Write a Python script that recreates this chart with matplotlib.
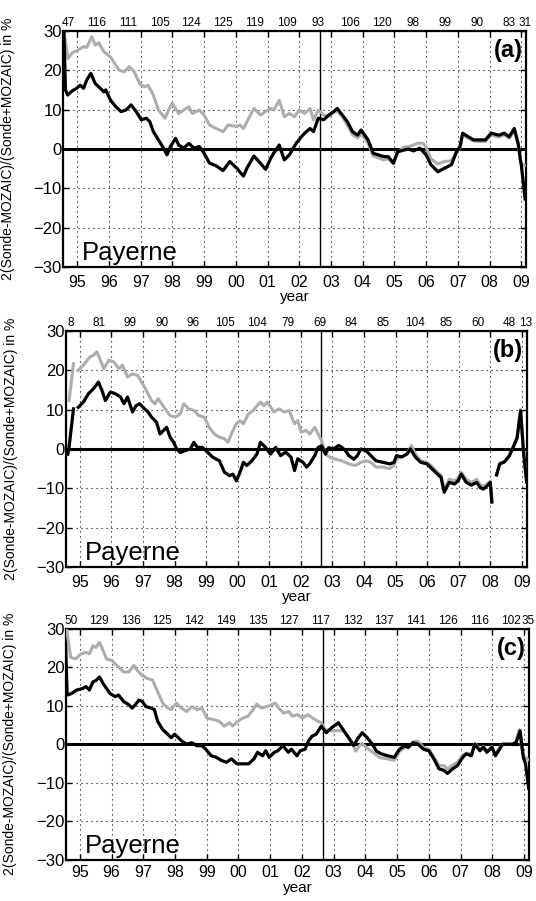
import numpy as np
import matplotlib
matplotlib.use('Agg')
import matplotlib.pyplot as plt

plt.rcParams['font.family'] = ['Liberation Sans', 'DejaVu Sans']

# ---- panel (a) ----
a_gray_t = [1994.58, 1994.71, 1994.85, 1995.0, 1995.1, 1995.2, 1995.3, 1995.46, 1995.57, 1995.68,
            1995.84, 1996.05, 1996.15, 1996.32, 1996.48, 1996.64, 1996.8, 1996.97, 1997.13, 1997.23,
            1997.4, 1997.56, 1997.77, 1997.88, 1997.99, 1998.2, 1998.36, 1998.52, 1998.63, 1998.85,
            1999.0, 1999.17, 1999.38, 1999.6, 1999.76, 2000.03, 2000.13, 2000.24, 2000.46, 2000.57,
            2000.78, 2000.94, 2001.1, 2001.2, 2001.37, 2001.53, 2001.69, 2001.85, 2002.0, 2002.17,
            2002.34, 2002.45, 2002.6, 2002.77, 2002.93, 2003.09, 2003.2, 2003.36, 2003.52, 2003.68,
            2003.84, 2003.95, 2004.17, 2004.33, 2004.49, 2004.65, 2004.81, 2004.97, 2005.1, 2005.3,
            2005.45, 2005.6, 2005.75, 2005.9, 2006.0, 2006.15, 2006.37, 2006.58, 2006.8, 2006.96,
            2007.07, 2007.15, 2007.33, 2007.5, 2007.7, 2007.87, 2008.05, 2008.3, 2008.46, 2008.62,
            2008.78, 2008.9, 2008.98, 2009.1]
a_gray = [30, 23, 24.5, 25, 25.5, 26, 25.8, 28.5, 26.4, 27,
          24.7, 23.4, 22.1, 20, 19.6, 20.9, 19.6, 16.6, 15.8, 16.2,
          13.7, 9.9, 7.8, 9.9, 11.6, 9, 9.9, 10.7, 9, 9.9,
          8.6, 6.1, 5.2, 4.4, 6.1, 5.7, 6.1, 5.2, 8.6, 10.3,
          8.6, 9.5, 10.3, 9.9, 12.4, 8.2, 9, 8.2, 9.9, 9,
          10.3, 7.4, 9.9, 8.6, 8.2, 9.5, 9.6, 8.2, 6, 3.6,
          2.8, 3.8, 1.5, -1.8, -2.2, -2.8, -2.5, -3.8, -1, 0.5,
          0.6, 1, 1.5, 1.4, 0.5, -2.5, -3.8, -3.2, -3, -0.9,
          0.3, 3.5, 2.7, 2, 1.9, 1.9, 3.5, 3, 3.6, 2.7,
          4.6, 1.2, -3.5, -4.2]

a_black_t = [1994.58, 1994.63, 1994.7, 1994.85, 1994.98, 1995.09, 1995.2, 1995.3, 1995.43, 1995.57,
             1995.73, 1995.84, 1995.9, 1996.05, 1996.22, 1996.38, 1996.54, 1996.7, 1996.86, 1997.02,
             1997.18, 1997.29, 1997.4, 1997.56, 1997.72, 1997.83, 1997.94, 1998.1, 1998.2, 1998.36,
             1998.52, 1998.68, 1998.85, 1999.0, 1999.17, 1999.38, 1999.6, 1999.81, 2000.03, 2000.24,
             2000.35, 2000.57, 2000.73, 2000.94, 2001.1, 2001.2, 2001.37, 2001.53, 2001.69, 2001.9,
             2002.07, 2002.17, 2002.34, 2002.45, 2002.6, 2002.77, 2002.93, 2003.09, 2003.2, 2003.36,
             2003.52, 2003.68, 2003.84, 2003.95, 2004.17, 2004.33, 2004.49, 2004.65, 2004.81, 2004.97,
             2005.1, 2005.3, 2005.45, 2005.6, 2005.8, 2006.0, 2006.15, 2006.37, 2006.58, 2006.8,
             2006.96, 2007.07, 2007.15, 2007.33, 2007.5, 2007.7, 2007.87, 2008.05, 2008.3, 2008.46,
             2008.62, 2008.78, 2008.9, 2008.98, 2009.0, 2009.12]
a_black = [30, 15, 13.7, 14.8, 15.4, 16.2, 15.4, 17.5, 19.2, 16.6,
           15.4, 14.5, 15, 12.4, 10.7, 9.5, 9.9, 11.2, 9.5, 7.4,
           7.8, 6.9, 4.4, 2.3, 0.2, -1.5, 0.6, 2.7, 1, 0.2,
           1.4, 0.2, 0.6, -1.1, -3.6, -4.3, -5.5, -3.2, -4.9, -6.9,
           -4.9, -1.8, -3.2, -5.2, -2.4, -1.0, 1.0, -2.8, -1.5, 1.4,
           3.1, 4, 5.2, 4.4, 7.8, 7.4, 8.6, 9.5, 10.3, 8.6,
           6.9, 4.4, 3.5, 4.8, 2.3, -1.1, -1.5, -1.9, -2.0, -3.6,
           -0.7, -0.3, 0, -0.5, 0.2, -1.5, -4, -5.8, -4.9, -4,
           -0.7, 0.6, 4, 3.1, 2.3, 2.3, 2.3, 4, 3.5, 4,
           3.1, 5.2, 1.4, -3.2, -4, -12.7]

# ---- panel (b) ----  (nan = gap in the record)
b_gray_t = [1994.66, 1994.8, 1994.87, 1994.95, 1995.11, 1995.32, 1995.43, 1995.54, 1995.65, 1995.76,
            1995.92, 1996.08, 1996.24, 1996.35, 1996.51, 1996.67, 1996.83, 1997.05, 1997.27, 1997.38,
            1997.48, 1997.7, 1997.86, 1998.02, 1998.18, 1998.29, 1998.45, 1998.61, 1998.77, 1998.94,
            1999.1, 1999.26, 1999.42, 1999.58, 1999.69, 1999.85, 1999.96, 2000.07, 2000.18, 2000.34,
            2000.5, 2000.61, 2000.72, 2000.83, 2000.93, 2001.15, 2001.31, 2001.47, 2001.63, 2001.8,
            2001.9, 2002.01, 2002.17, 2002.28, 2002.44, 2002.55, 2002.66, 2002.78, 2002.94, 2003.09,
            2003.3, 2003.52, 2003.73, 2003.9, 2004.06, 2004.22, 2004.38, 2004.6, 2004.82, 2004.95,
            2005.03, 2005.2, 2005.36, 2005.5, 2005.63, 2005.8, 2006.0, 2006.16, 2006.33, 2006.44,
            2006.54, 2006.7, 2006.87, 2006.98, 2007.08, 2007.24, 2007.4, 2007.57, 2007.68, 2007.78,
            2007.9, 2008.0, 2008.05, 2008.12, 2008.2, 2008.3, 2008.45, 2008.6, 2008.72, 2008.85,
            2008.96, 2009.05, 2009.15]
b_gray = [12.3, 21.7, np.nan, 20, 21.3, 23.4, 23.8, 24.7, 22.6, 20.4,
          22.6, 22.1, 20.4, 21.3, 18.3, 19.1, 18.7, 15.7, 12.3, 11.5,
          12.8, 10.2, 8.5, 8.1, 8.9, 11.5, 10.2, 9.8, 8.5, 8.1,
          5.5, 3.8, 3, 2.6, 1.7, 4.7, 6.4, 7.2, 6.4, 8.9,
          9.8, 11, 11.9, 11, 11.9, 9.4, 10.2, 9.4, 9.8, 6.4,
          7.2, 4.3, 4.7, 3.8, 5.5, 3.8, 2.0, -1.3, -2.2, -2.6,
          -3, -3.8, -4.2, -3.4, -3.0, -3.4, -4.6, -4.6, -5, -4.2,
          -2.5, -2.1, -1.3, 0.9, -1.3, -3, -3.4, -4.5, -6, -6.6,
          -10.2, -7.7, -8.1, -7.4, -5.9, -7.7, -8.5, -7.7, -9.0, -9.6,
          -8.9, -8.2, -12.8, np.nan, -6.4, -3.6, -3.1, -1.6, 0.5, 3,
          10.0, -0.3, -8.2]

b_black_t = [1994.62, 1994.65, 1994.8, 1994.87, 1994.95, 1995.11, 1995.27, 1995.43, 1995.59, 1995.7,
             1995.81, 1995.97, 1996.13, 1996.29, 1996.4, 1996.51, 1996.67, 1996.78, 1996.89, 1997.05,
             1997.16, 1997.27, 1997.43, 1997.54, 1997.65, 1997.75, 1997.86, 1997.97, 1998.07, 1998.18,
             1998.34, 1998.5, 1998.61, 1998.72, 1998.88, 1998.99, 1999.21, 1999.42, 1999.58, 1999.74,
             1999.85, 1999.96, 2000.07, 2000.18, 2000.29, 2000.45, 2000.61, 2000.72, 2000.88, 2001.04,
             2001.2, 2001.36, 2001.52, 2001.69, 2001.8, 2001.9, 2002.07, 2002.18, 2002.28, 2002.44,
             2002.55, 2002.66, 2002.78, 2002.88, 2003.04, 2003.2, 2003.3, 2003.41, 2003.52, 2003.68,
             2003.79, 2003.9, 2004.06, 2004.22, 2004.38, 2004.6, 2004.82, 2004.95, 2005.03, 2005.2,
             2005.36, 2005.47, 2005.63, 2005.8, 2006.0, 2006.16, 2006.33, 2006.44, 2006.54, 2006.7,
             2006.87, 2006.98, 2007.08, 2007.24, 2007.4, 2007.57, 2007.68, 2007.78, 2007.9, 2008.0,
             2008.05, 2008.12, 2008.2, 2008.3, 2008.45, 2008.6, 2008.72, 2008.85, 2008.96, 2009.05,
             2009.15]
b_black = [-1.3, -0.2, 10.2, np.nan, 10.6, 11.9, 14, 15.3, 17, 14.9,
           12.3, 14.5, 14, 13.2, 11.5, 13.2, 9.4, 11, 11.5, 10.2,
           9.4, 8.1, 6.8, 3.8, 4.7, 5.5, 3, 1.7, 0, -0.9,
           -0.4, 0, 1.7, 0.4, 0.4, -0.4, -2.1, -3, -5.9, -6.8,
           -6.4, -8.1, -6, -3.4, -4.2, -3, -1.3, 1.7, 0.4, -1.3,
           0.4, -1.7, -0.8, -2.1, -5.5, -2.5, -3.4, -4.6, -3.8, -1.7,
           0.4, 0.8, -1.3, 0.3, 0, 0.9, 0.4, -0.4, -1.7, -2.6,
           -1.7, 0, -0.4, -1.7, -3, -3.4, -3.8, -3.4, -1.7, -2.0,
           -1.3, 0, -2.1, -3.4, -3.8, -5.1, -6.4, -7.2, -11, -8.5,
           -8.9, -8.1, -6.4, -8.5, -9.2, -8.5, -9.8, -10.2, -9.4, -8.5,
           -13.5, np.nan, -6.6, -3.8, -3.3, -1.8, 0.3, 2.8, 9.7, -0.5,
           -8.4]

# ---- panel (c) ----
c_gray_t = [1994.58, 1994.71, 1994.87, 1995.03, 1995.19, 1995.3, 1995.41, 1995.51, 1995.62, 1995.73,
            1995.84, 1996.0, 1996.16, 1996.38, 1996.54, 1996.7, 1996.81, 1996.97, 1997.13, 1997.29,
            1997.45, 1997.61, 1997.77, 1997.88, 1998.04, 1998.2, 1998.37, 1998.53, 1998.69, 1998.85,
            1999.01, 1999.23, 1999.39, 1999.55, 1999.71, 1999.82, 1999.98, 2000.14, 2000.3, 2000.46,
            2000.57, 2000.73, 2000.89, 2001.05, 2001.16, 2001.27, 2001.43, 2001.59, 2001.7, 2001.86,
            2002.02, 2002.18, 2002.34, 2002.5, 2002.61, 2002.72, 2002.88, 2003.0, 2003.15, 2003.3,
            2003.45, 2003.55, 2003.7, 2003.8, 2003.9, 2004.05, 2004.27, 2004.45, 2004.7, 2004.91,
            2005.08, 2005.25, 2005.35, 2005.5, 2005.65, 2005.83, 2006.0, 2006.16, 2006.32, 2006.48,
            2006.59, 2006.75, 2006.9, 2007.07, 2007.2, 2007.34, 2007.45, 2007.6, 2007.72, 2007.85,
            2007.99, 2008.1, 2008.2, 2008.33, 2008.5, 2008.64, 2008.75, 2008.85, 2008.92, 2008.98,
            2009.13]
c_gray = [30, 22.6, 22.2, 23.5, 23.9, 23.5, 25.6, 25.2, 26.5, 24.4,
          22.2, 21.8, 20.5, 18.8, 18.8, 20.5, 19.2, 17.9, 17.1, 16.7,
          13.7, 10.7, 9.4, 9, 10.7, 9.4, 8.5, 9.8, 9, 9.4,
          6.8, 6.4, 6, 4.7, 5.6, 4.7, 6, 6.8, 7.3, 9,
          10.4, 9.4, 9.8, 10.3, 10.7, 9.4, 8.1, 8.5, 7.3, 7.7,
          6.8, 7.7, 6.8, 6, 5.6, 3.8, 3.6, 3.4, 3.6, 3.4,
          2.1, 0.9, -1.8, -0.5, 0.2, -1.0, -2.3, -3.5, -3.8, -4.2,
          -1.8, -0.8, -1, 0.6, 0.8, -0.8, -1.3, -3.4, -5.5, -5.6,
          -6.4, -5.4, -4.7, -2.8, -2.3, -2.7, 0.2, -1.3, -0.6, -1.7,
          -0.6, -2.5, -1.2, 0, 0, 0.2, 0.6, 3.8, -0.5, -3.0,
          -4]

c_black_t = [1994.55, 1994.6, 1994.74, 1994.9, 1995.09, 1995.19, 1995.3, 1995.41, 1995.51, 1995.62,
             1995.73, 1995.84, 1995.95, 1996.11, 1996.22, 1996.38, 1996.54, 1996.65, 1996.75, 1996.86,
             1996.97, 1997.08, 1997.24, 1997.35, 1997.45, 1997.61, 1997.77, 1997.88, 1997.99, 1998.1,
             1998.2, 1998.37, 1998.53, 1998.69, 1998.85, 1998.97, 1999.14, 1999.3, 1999.46, 1999.62,
             1999.78, 1999.95, 2000.16, 2000.32, 2000.49, 2000.6, 2000.76, 2000.86, 2000.97, 2001.13,
             2001.24, 2001.4, 2001.57, 2001.67, 2001.84, 2001.95, 2002.1, 2002.21, 2002.32, 2002.45,
             2002.61, 2002.77, 2002.94, 2003.15, 2003.3, 2003.47, 2003.63, 2003.78, 2003.9, 2004.06,
             2004.22, 2004.35, 2004.5, 2004.7, 2004.91, 2005.08, 2005.24, 2005.35, 2005.5, 2005.66,
             2005.83, 2006.0, 2006.16, 2006.32, 2006.48, 2006.59, 2006.75, 2006.91, 2007.07, 2007.18,
             2007.34, 2007.45, 2007.61, 2007.72, 2007.83, 2007.99, 2008.1, 2008.2, 2008.33, 2008.5,
             2008.64, 2008.75, 2008.88, 2008.94, 2008.98, 2009.05, 2009.15]
c_black = [25.6, 12.8, 13.2, 14.1, 14.5, 15, 14.1, 16.2, 16.6, 17.5,
           15.8, 14.5, 13.2, 12.4, 12.8, 11.1, 10.3, 9.4, 10.3, 11.5,
           11.1, 9.8, 9.4, 9, 6, 3.8, 2.6, 1.7, 2.6, 1.7,
           0.9, 0, 0.4, -0.4, -0.4, -1.3, -3, -3.4, -4.2, -4.7,
           -3.8, -5.1, -5.1, -5.1, -3.8, -2.1, -3, -1.7, -3.4, -2.1,
           -1.7, -0.4, -2.1, -1.3, -3, -1.7, -1.3, 0.9, 2.1, 2.6,
           4.7, 3, 4.3, 5.6, 3.8, 1.7, -0.3, 1.7, 3, 1.7,
           0, -1.8, -2.5, -3, -3.4, -1.3, -0.4, -0.8, 0.4, 0,
           -1.3, -1.7, -3.8, -6.4, -6.8, -7.6, -6.4, -5.5, -3.4, -2.5,
           -3, 0, -1.7, -0.8, -2.1, -0.8, -3, -1.7, 0, 0,
           0, 0.4, 3.5, -0.8, -3.4, -5.1, -11.5]

# number of profiles per year, written above each panel
a_counts = [47, 116, 111, 105, 124, 125, 119, 109, 93, 106, 120, 98, 99, 90, 83, 31]
b_counts = [8, 81, 99, 90, 96, 105, 104, 79, 69, 84, 85, 104, 85, 60, 48, 13]
c_counts = [50, 129, 136, 125, 142, 149, 135, 127, 117, 132, 137, 141, 126, 116, 102, 35]

years = list(range(1995, 2010))
year_labels = ['%02d' % (y % 100) for y in years]
panel_tags = ['(a)', '(b)', '(c)']
station = 'Payerne'
ylab = '2(Sonde-MOZAIC)/(Sonde+MOZAIC) in %'

x0, x1 = 1994.56, 2009.16
switch_year = 2002.65
gray_col = '#adadad'

fig = plt.figure(figsize=(5.36, 9.01), dpi=100)
boxes = [[0.118, 0.7037, 0.864, 0.262],
         [0.123, 0.3707, 0.860, 0.262],
         [0.123, 0.0460, 0.864, 0.256]]
# bottom panel sits close to the figure edge: smaller gap under its ticks
tick_pad = [5.5, 5.5, 4]

panels = [(a_gray_t, a_gray, a_black_t, a_black, a_counts),
          (b_gray_t, b_gray, b_black_t, b_black, b_counts),
          (c_gray_t, c_gray, c_black_t, c_black, c_counts)]

for i, (gt, gv, bt, bv, counts) in enumerate(panels):
    ax = fig.add_axes(boxes[i])
    ax.axhline(0, color='k', lw=2.2, zorder=2)
    ax.axvline(switch_year, color='k', lw=1.0, zorder=2)
    ax.plot(gt, gv, color=gray_col, lw=2.2, zorder=3)
    ax.plot(bt, bv, color='k', lw=2.3, zorder=4)

    ax.set_xlim(x0, x1)
    ax.set_ylim(-30, 30)
    ax.set_xticks(years)
    ax.set_xticklabels(year_labels, fontsize=11.5)
    ax.set_yticks([-30, -20, -10, 0, 10, 20, 30])
    ax.tick_params(axis='y', labelsize=12, pad=1)
    ax.tick_params(axis='x', pad=tick_pad[i])
    ax.tick_params(direction='in', length=4, width=1, top=True, right=True)
    ax.grid(True, color='k', linestyle=(0, (1, 3.5)), linewidth=0.8)
    for s in ax.spines.values():
        s.set_linewidth(1.6)

    ax.set_xlabel('year', fontsize=11, labelpad=0.5)
    ax.set_ylabel(ylab, fontsize=10)
    ax.yaxis.set_label_coords(-0.105, 0.5)

    ax.text(2009.05, 25, panel_tags[i], fontsize=17, fontweight='bold', ha='right', va='center')
    ax.text(1995.15, -28.3, station, fontsize=18.5, ha='left', va='baseline')

    # counts on top: first at the left edge, one per year, last at the right edge
    cx = [x0 + 0.15] + [y + 0.6 for y in range(1995, 2009)] + [x1 - 0.04]
    for xx, n in zip(cx, counts):
        ax.text(xx, 30.6, str(n), fontsize=8.5, ha='center', va='bottom')

fig.savefig('out.png', dpi=100)
